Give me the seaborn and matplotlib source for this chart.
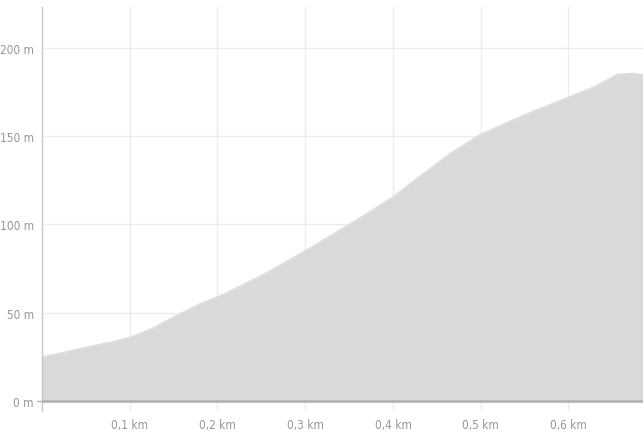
import numpy as np
import pandas as pd
import matplotlib
matplotlib.use('Agg')
import matplotlib.pyplot as plt
import seaborn as sns

# elevation profile
distance_km = [0, 0.02, 0.056, 0.08, 0.1, 0.125, 0.15, 0.18, 0.205, 0.25, 0.3,
               0.36, 0.4, 0.43, 0.465, 0.49, 0.5, 0.55, 0.6, 0.63, 0.656, 0.674, 0.685]
elevation_m = [25, 27, 31, 33.5, 36, 41, 47.5, 55, 60, 71, 85,
               103, 115.5, 127, 140, 148, 151, 162, 172, 178, 185, 185.5, 184.5]
x_ticks = [0.1, 0.2, 0.3, 0.4, 0.5, 0.6]
x_labels = ['0,1 km', '0,2 km', '0,3 km', '0,4 km', '0,5 km', '0,6 km']
y_ticks = [0, 50, 100, 150, 200]
y_labels = ['0 m', '50 m', '100 m', '150 m', '200 m']

df = pd.DataFrame({'km': distance_km, 'm': elevation_m})

sns.set_style('white')
plt.rcParams['font.family'] = ['DejaVu Sans']

fig = plt.figure(figsize=(6.43, 4.35), dpi=100)
ax = fig.add_axes([42 / 643, 23 / 435, 1 - 42 / 643, 404 / 435])

ax.fill_between(df['km'], 0, df['m'], color='#d9d9d9', linewidth=0, zorder=2)
sns.lineplot(data=df, x='km', y='m', ax=ax, color='#d9d9d9', linewidth=0.8, zorder=3)
ax.axhline(0, color='#b0b0b0', linewidth=1.8, zorder=4)

ax.set_xlim(0, 0.685)
ax.set_ylim(-5.7, 223)
ax.set_xticks(x_ticks)
ax.set_yticks(y_ticks)
ax.set_xticklabels(x_labels, fontsize=8.5, fontstretch='condensed', fontweight='light')
ax.set_yticklabels(y_labels, fontsize=8.5, fontstretch='condensed', fontweight='light')
ax.grid(True, color='#e6e6e6', linewidth=0.9, zorder=0)
for gl in ax.get_xgridlines() + ax.get_ygridlines():
    gl.set_zorder(2.5)
    gl.set_alpha(0.8)

ax.tick_params(axis='both', colors='#959595', length=0)
ax.tick_params(axis='y', pad=6)
ax.tick_params(axis='x', pad=5)
ax.set_xlabel('')
ax.set_ylabel('')

for side in ['top', 'right', 'bottom']:
    ax.spines[side].set_visible(False)
ax.spines['left'].set_color('#c8c8c8')
ax.spines['left'].set_linewidth(1)

# small tick at zero only
ax.plot([-0.006, 0], [0, 0], color='#b0b0b0', linewidth=1, clip_on=False)

fig.savefig('out.png', dpi=100)
